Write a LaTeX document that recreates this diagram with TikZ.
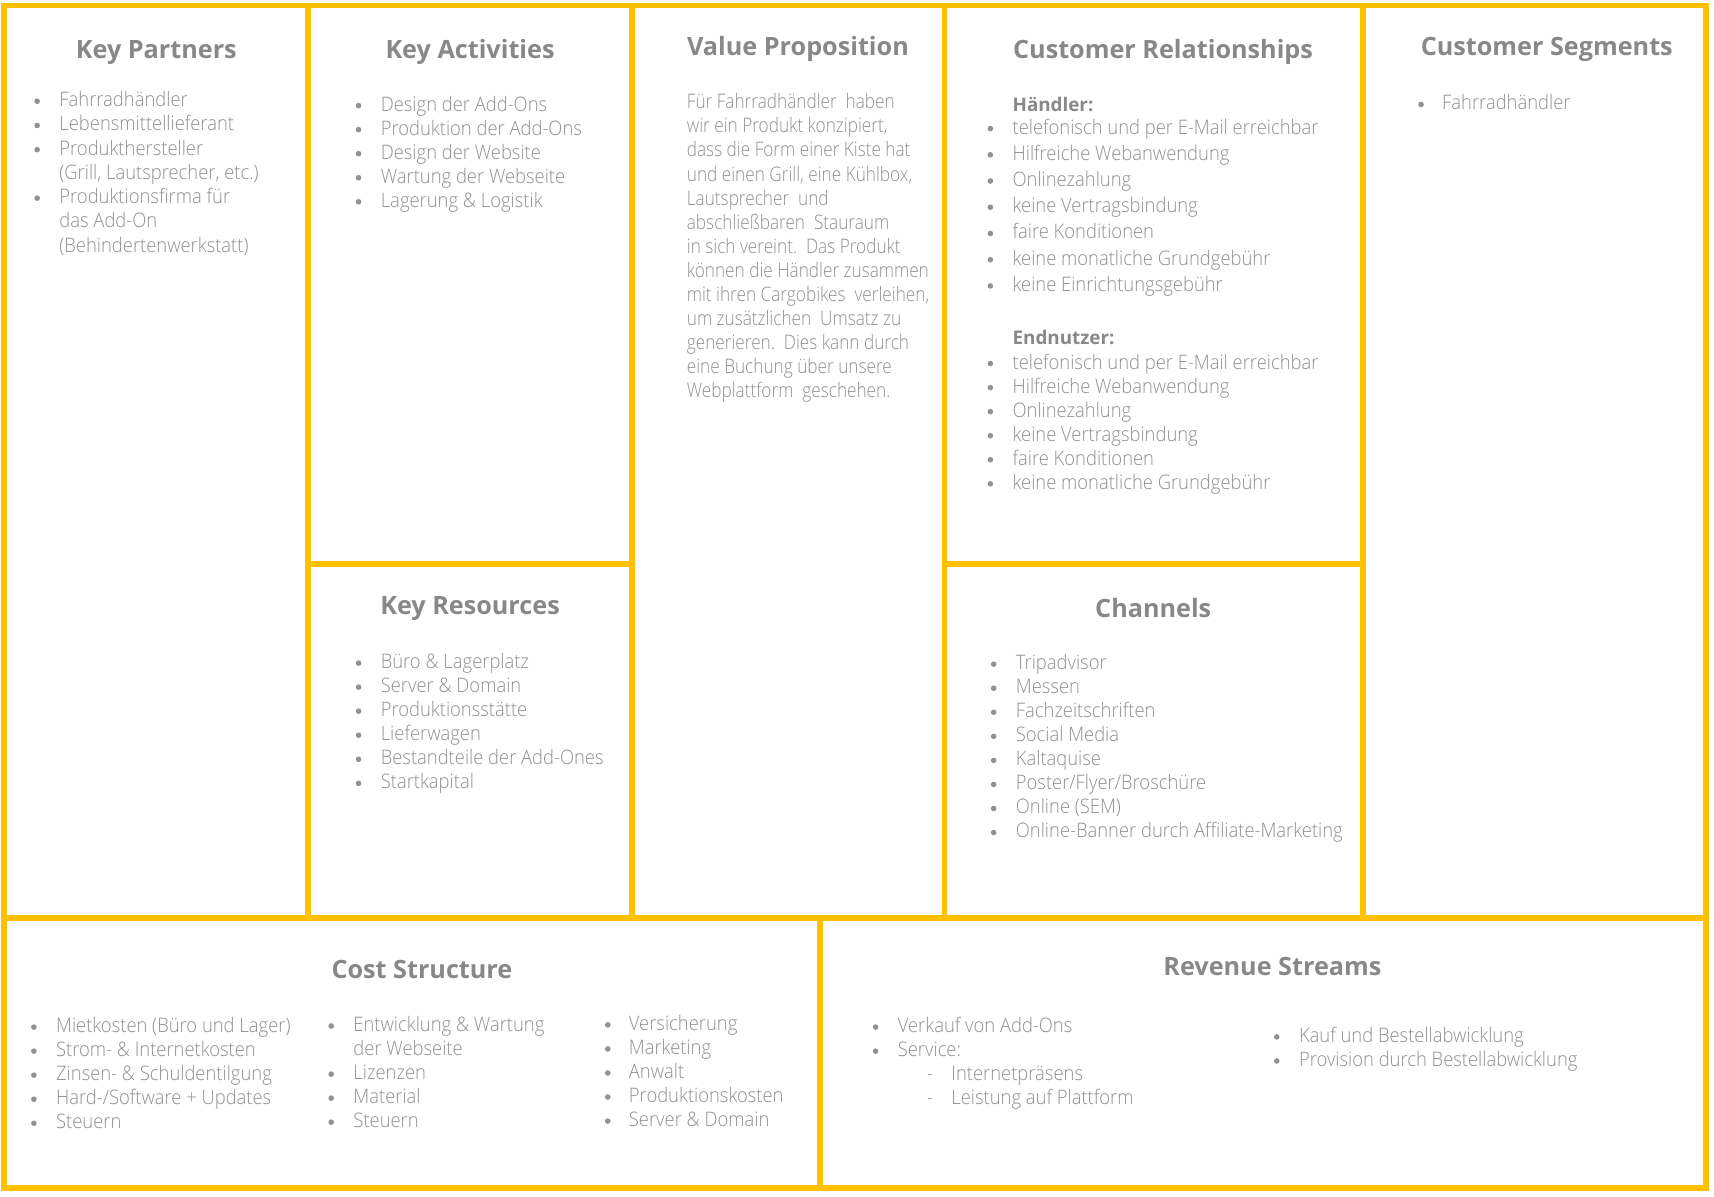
\documentclass[tikz,border=0pt]{standalone}
\usepackage{fontspec}
\IfFontExistsTF{Open Sans Light}
  {\newfontfamily\bodyfont{Open Sans Light}[FakeStretch=0.92]
   \newfontfamily\parafont{Open Sans Light}[FakeStretch=0.86]}
  {\newfontfamily\bodyfont{Open Sans}[FakeStretch=0.92]
   \newfontfamily\parafont{Open Sans}[FakeStretch=0.86]}
\newfontfamily\headfont{Open Sans}
\definecolor{gold}{RGB}{255,192,0}
\definecolor{titlegray}{RGB}{136,136,136}
\definecolor{bodygray}{RGB}{144,144,144}
\definecolor{dotgray}{RGB}{145,145,145}
\tikzset{
  grid/.style={draw=gold, line width=2.9pt},
  ttl/.style={font=\headfont\bfseries\fontsize{12.6}{15}\selectfont, text=titlegray, inner sep=0pt, anchor=base},
  txt/.style={font=\bodyfont\fontsize{10}{12}\selectfont, text=bodygray, inner sep=0pt, anchor=base west},
  para/.style={font=\parafont\fontsize{10}{12}\selectfont, text=bodygray, inner sep=0pt, anchor=base west},
  sub/.style={font=\headfont\bfseries\fontsize{9.4}{11}\selectfont, text=titlegray, inner sep=0pt, anchor=base west},
  dot/.style={circle, fill=dotgray, inner sep=0pt, minimum size=2.8pt},
}
% #1 prefix, #2 marker x, #3 text x, #4 first baseline, #5 line step, #6 marker/text pairs
% marker: b = bullet, d = dash, n = none
\newcommand\itemlist[6]{%
  \foreach \k/\t [count=\i from 0] in {#6} {
    \node[txt] (#1-\i) at (#3, #4+#5*\i) {\t};
    \if b\k \node[dot] (#1-m\i) at (#2, #4+#5*\i-5) {};\fi
    \if d\k \node[txt] (#1-m\i) at (#2, #4+#5*\i) {-};\fi
  }}
\begin{document}
\begin{tikzpicture}[x=0.5465pt, y=-0.5465pt]
\useasboundingbox (0,0) rectangle (1568,1095);
\fill[white] (0,0) rectangle (1568,1095);

% canvas grid
\draw[grid] (4,5) rectangle (1561,1087);
\draw[grid] (282,5) -- (282,840);
\draw[grid] (578,5) -- (578,840);
\draw[grid] (864,5) -- (864,840);
\draw[grid] (1247,5) -- (1247,840);
\draw[grid] (4,840) -- (1561,840);
\draw[grid] (282,516) -- (578,516);
\draw[grid] (864,516) -- (1247,516);
\draw[grid] (750,840) -- (750,1087);

\begin{scope}[shift={(0,1.6)}]
% Key Partners
\node[ttl] (kpT) at (143,52) {Key Partners};
\itemlist{kp}{34}{54}{96}{22.17}{b/Fahrradhändler, b/Lebensmittellieferant, b/Produkthersteller,
  n/{(Grill, Lautsprecher, etc.)}, b/Produktionsfirma für, n/das Add-On, n/(Behindertenwerkstatt)}

% Key Activities
\node[ttl] (kaT) at (430,52) {Key Activities};
\itemlist{ka}{328}{348}{100}{22}{b/Design der Add-Ons, b/Produktion der Add-Ons, b/Design der Website,
  b/Wartung der Webseite, b/Lagerung \& Logistik}

% Key Resources
\node[ttl] (krT) at (430,561) {Key Resources};
\itemlist{kr}{328}{348}{610}{22}{b/Büro \& Lagerplatz, b/Server \& Domain, b/Produktionsstätte,
  b/Lieferwagen, b/Bestandteile der Add-Ones, b/Startkapital}

% Value Proposition
\node[ttl] (vpT) at (730,49) {Value Proposition};
\foreach \t [count=\i from 0] in {Für Fahrradhändler\ \ haben, {wir ein Produkt konzipiert,},
  dass die Form einer Kiste hat, {und einen Grill, eine Kühlbox,}, Lautsprecher\ \ und,
  abschließbaren\ \ Stauraum, in sich vereint.\ \ Das Produkt, können die Händler zusammen,
  {mit ihren Cargobikes\ \ verleihen,}, um zusätzlichen\ \ Umsatz zu, generieren.\ \ Dies kann durch,
  eine Buchung über unsere, Webplattform\ \ geschehen.}
  \node[para] (vp-\i) at (628, 98+22*\i) {\t};

% Customer Relationships
\node[ttl] (crT) at (1064,52) {Customer Relationships};
\node[sub] (crH) at (926,100) {Händler:};
\itemlist{crh}{906}{926}{121}{24}{b/telefonisch und per E-Mail erreichbar, b/Hilfreiche Webanwendung,
  b/Onlinezahlung, b/keine Vertragsbindung, b/faire Konditionen, b/keine monatliche Grundgebühr,
  b/keine Einrichtungsgebühr}
\node[sub] (crE) at (926,314) {Endnutzer:};
\itemlist{cre}{906}{926}{336}{22}{b/telefonisch und per E-Mail erreichbar, b/Hilfreiche Webanwendung,
  b/Onlinezahlung, b/keine Vertragsbindung, b/faire Konditionen, b/keine monatliche Grundgebühr}

% Channels
\node[ttl] (chT) at (1055,563) {Channels};
\itemlist{ch}{909}{929}{611}{22}{b/Tripadvisor, b/Messen, b/Fachzeitschriften, b/Social Media,
  b/Kaltaquise, b/{Poster/Flyer/Broschüre}, b/Online (SEM), b/Online-Banner durch Affiliate-Marketing}

% Customer Segments
\node[ttl] (csT) at (1415,49) {Customer Segments};
\itemlist{cs}{1300}{1319}{99}{22}{b/Fahrradhändler}

% Cost Structure
\node[ttl] (coT) at (386,894) {Cost Structure};
\itemlist{coa}{31}{51}{943}{22}{b/Mietkosten (Büro und Lager), b/Strom- \& Internetkosten,
  b/Zinsen- \& Schuldentilgung, b/{Hard-/Software + Updates}, b/Steuern}
\itemlist{cob}{303}{323}{942}{22}{b/Entwicklung \& Wartung, n/der Webseite, b/Lizenzen, b/Material, b/Steuern}
\itemlist{coc}{556}{575}{941}{22}{b/Versicherung, b/Marketing, b/Anwalt, b/Produktionskosten, b/Server \& Domain}

% Revenue Streams
\node[ttl] (rsT) at (1164,891) {Revenue Streams};
\itemlist{rsa}{801}{821}{943}{22}{b/Verkauf von Add-Ons, b/Service:}
\itemlist{rsb}{848}{870}{987}{22}{d/Internetpräsens, d/Leistung auf Plattform}
\itemlist{rsc}{1168}{1188}{952}{22}{b/Kauf und Bestellabwicklung, b/Provision durch Bestellabwicklung}
\end{scope}
\end{tikzpicture}
\end{document}
